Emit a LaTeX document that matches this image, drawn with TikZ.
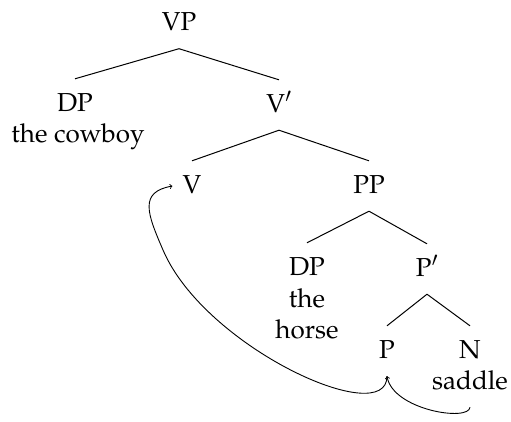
\documentclass[tikz,border=0pt]{standalone}
\usepackage[T1]{fontenc}
\usepackage{mathpazo}
\tikzset{
  lbl/.style={anchor=base, inner sep=0pt, text height=32pt, text depth=18pt,
              font=\fontsize{26}{31.5}\selectfont},
  edge/.style={line width=1pt},
  mv/.style={line width=0.9pt, ->}
}
\begin{document}
\begin{tikzpicture}[x=1pt,y=-1pt]
\useasboundingbox (0,0) rectangle (511,421);
\node[lbl] (VP) at (179,30.5) {VP};
\node[lbl] (DP1) at (75,111) {DP};
\node[lbl] (cowboy) at (78,142.5) {the cowboy};
\node[lbl] (Vbar) at (279,112) {V$'$};
\node[lbl] (V) at (192,193) {V};
\node[lbl] (PP) at (369,193) {PP};
\node[lbl] (DP2) at (307,275) {DP};
\node[lbl] (the) at (307,307) {the};
\node[lbl] (horse) at (307,338) {horse};
\node[lbl] (Pbar) at (427,276) {P$'$};
\node[lbl] (P) at (387,358) {P};
\node[lbl] (N) at (470,358) {N};
\node[lbl] (saddle) at (470,389) {saddle};
\draw[edge] (VP.south) -- (DP1.north);
\draw[edge] (VP.south) -- (Vbar.north);
\draw[edge] (Vbar.south) -- (V.north);
\draw[edge] (Vbar.south) -- (PP.north);
\draw[edge] (PP.south) -- (DP2.north);
\draw[edge] (PP.south) -- (Pbar.north);
\draw[edge] (Pbar.south) -- (P.north);
\draw[edge] (Pbar.south) -- (N.north);
\coordinate (Vin) at ([xshift=-10pt]V.west);
\draw[mv] (P.south) .. controls (387,430) and (205,348) .. (163,250)
  .. controls (147,213) and (139,192) .. (Vin);
\draw[mv] (saddle.south) .. controls (469,422) and (393,410) .. (P.south);
\end{tikzpicture}
\end{document}
